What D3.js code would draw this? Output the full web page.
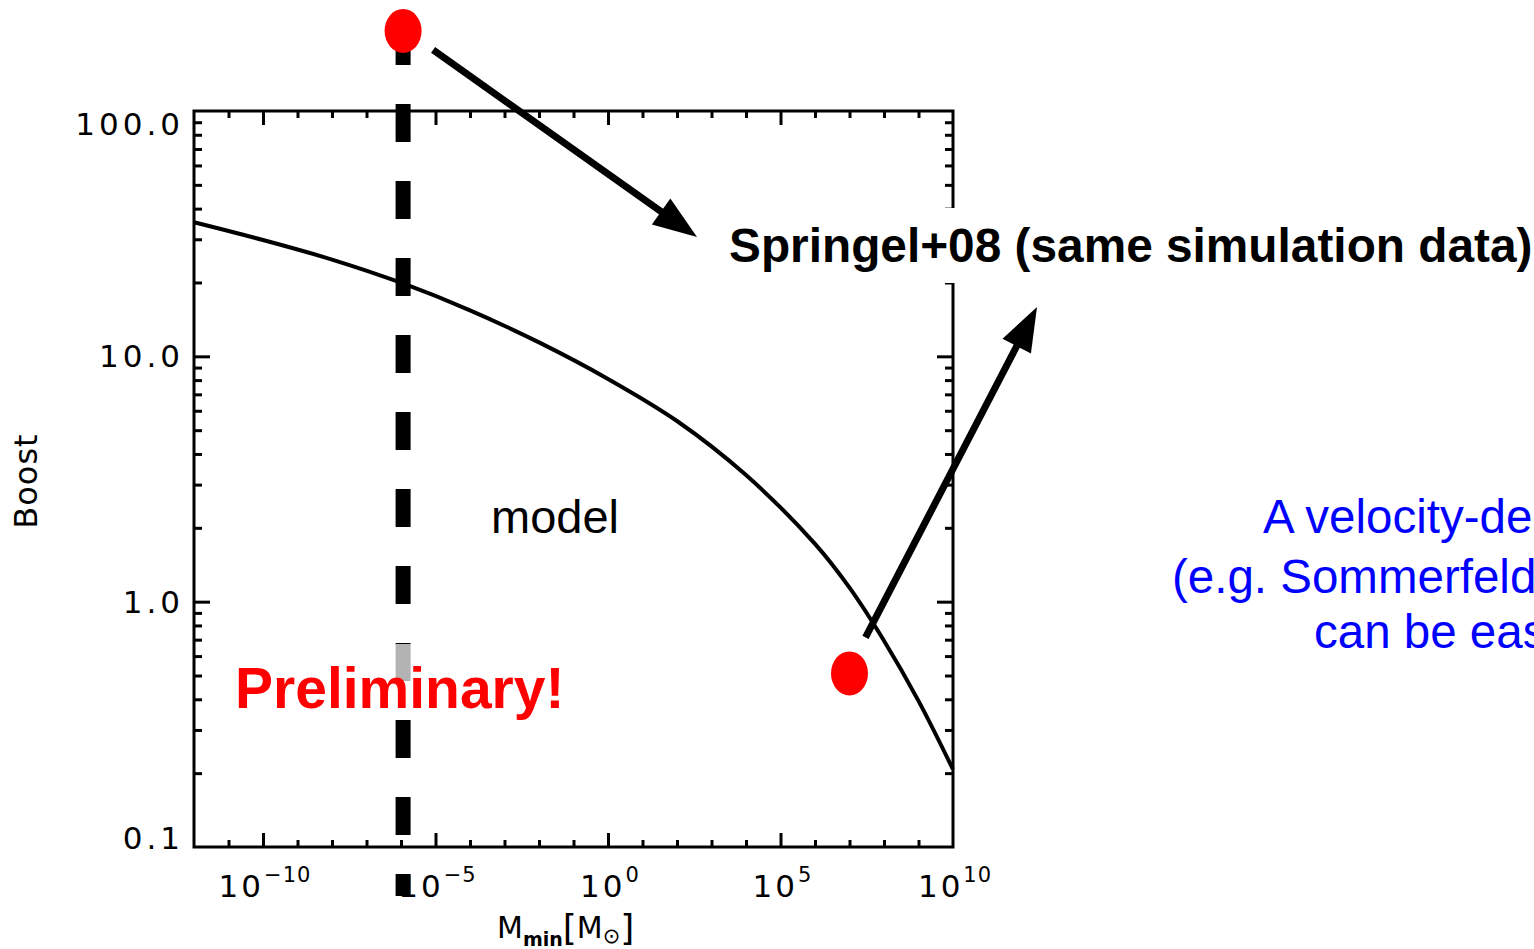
<!DOCTYPE html>
<html><head><meta charset="utf-8">
<script src="https://cdn.jsdelivr.net/npm/d3@7"></script>
<style>html,body{margin:0;padding:0;background:#fff;overflow:hidden}</style>
</head><body><svg id="c" width="1534" height="949"></svg>
<script>
// ---- data ----
const massExp = [-12, -10, -8, -6, -4, -2, 0, 2, 4, 6, 7, 8, 9, 10];
const boostModel = [35.2, 29.8, 24.8, 19.95, 15.4, 11.4, 8.09, 5.45, 3.28, 1.72, 1.14, 0.693, 0.394, 0.207];
const springelMass = [1.15e-6, 1e7];
const springelBoost = [212, 0.51];
const cutMass = 1.15e-6;
const yTickValues = [0.1, 1, 10, 100];
const yTickLabels = ["0.1", "1.0", "10.0", "100.0"];
const xTickExps = [-10, -5, 0, 5, 10];
const xTickSup = ["\u221210", "\u22125", "0", "5", "10"];

// ---- layout ----
const W = 1534, H = 949;
const L = 194, R = 953, T = 111, B = 847;
const svg = d3.select("#c");
const x = d3.scaleLog().domain([1e-12, 1e10]).range([L, R]);
const y = d3.scaleLog().domain([0.1, 100]).range([B, T]);
const tickFont = "'DejaVu Sans', sans-serif";
const arial = "'Liberation Sans', Arial, sans-serif";

const xMinor = d3.range(-11, 10).filter(e => e % 5 !== 0).map(e => Math.pow(10, e));
const xMajor = [1e-10, 1e-5, 1, 1e5];
const yMinor = [];
[0.1, 1, 10].forEach(d => { for (let k = 2; k <= 9; k++) yMinor.push(d * k); });
const yMajor = [1, 10];

function styleAxis(g) {
  g.select(".domain").remove();
  g.selectAll(".tick text").remove();
  g.selectAll(".tick line").attr("stroke", "#000").attr("stroke-width", 3);
}
svg.append("g").attr("transform", `translate(0,${B})`).call(d3.axisBottom(x).tickValues(xMinor).tickSize(-7)).call(styleAxis);
svg.append("g").attr("transform", `translate(0,${B})`).call(d3.axisBottom(x).tickValues(xMajor).tickSize(-14)).call(styleAxis);
svg.append("g").attr("transform", `translate(0,${T})`).call(d3.axisTop(x).tickValues(xMinor).tickSize(-7)).call(styleAxis);
svg.append("g").attr("transform", `translate(0,${T})`).call(d3.axisTop(x).tickValues(xMajor).tickSize(-14)).call(styleAxis);
svg.append("g").attr("transform", `translate(${L},0)`).call(d3.axisLeft(y).tickValues(yMinor).tickSize(-8)).call(styleAxis);
svg.append("g").attr("transform", `translate(${L},0)`).call(d3.axisLeft(y).tickValues(yMajor).tickSize(-16)).call(styleAxis);
svg.append("g").attr("transform", `translate(${R},0)`).call(d3.axisRight(y).tickValues(yMinor).tickSize(-8)).call(styleAxis);
svg.append("g").attr("transform", `translate(${R},0)`).call(d3.axisRight(y).tickValues(yMajor).tickSize(-16)).call(styleAxis);

// frame
svg.append("rect").attr("x", L).attr("y", T).attr("width", R - L).attr("height", B - T)
  .attr("fill", "none").attr("stroke", "#000").attr("stroke-width", 3);

// y tick labels
const yLabOffset = [-9, 0, 0, 13];
svg.append("g").selectAll("text").data(yTickValues).join("text")
  .attr("x", 184)
  .attr("y", (d, i) => y(d) + 11 + yLabOffset[i])
  .attr("text-anchor", "end")
  .attr("font-family", tickFont).attr("font-size", 31).attr("letter-spacing", 4)
  .text((d, i) => yTickLabels[i]);

// x tick labels
const xl = svg.append("g").selectAll("text").data(xTickExps).join("text")
  .attr("x", d => x(Math.pow(10, d)) + 2)
  .attr("y", 897)
  .attr("text-anchor", "middle")
  .attr("font-family", tickFont).attr("font-size", 31).attr("letter-spacing", 3);
xl.append("tspan").text("10");
xl.append("tspan").attr("font-size", 21).attr("dy", -15).attr("letter-spacing", 1).text((d, i) => xTickSup[i]);

// axis titles
const xt = svg.append("text").attr("x", 497).attr("y", 938).attr("font-family", tickFont).attr("font-size", 30);
xt.append("tspan").text("M");
xt.append("tspan").attr("font-size", 19).attr("dy", 8).attr("font-weight", "bold").text("min");
xt.append("tspan").attr("font-size", 36).attr("dy", -6).text("[");
xt.append("tspan").attr("dy", -2).text("M");
xt.append("tspan").attr("font-size", 21).attr("dy", 5).text("\u2299");
xt.append("tspan").attr("font-size", 36).attr("dy", -3).text("]");

svg.append("text").attr("transform", "translate(37,481) rotate(-90)")
  .attr("text-anchor", "middle").attr("font-family", tickFont).attr("font-size", 32).attr("letter-spacing", 1)
  .text("Boost");

// model curve
const line = d3.line().x(d => x(Math.pow(10, d[0]))).y(d => y(d[1])).curve(d3.curveCatmullRom);
svg.append("path").datum(massExp.map((m, i) => [m, boostModel[i]]))
  .attr("d", line).attr("fill", "none").attr("stroke", "#000").attr("stroke-width", 4);

// dashed cut line
const yTopDash = y(springelBoost[0]) - 4;
svg.append("line").attr("x1", x(cutMass)).attr("x2", x(cutMass))
  .attr("y1", yTopDash).attr("y2", 896)
  .attr("stroke", "#000").attr("stroke-width", 15).attr("stroke-dasharray", "38,39");

// "model" label
svg.append("text").attr("x", 491).attr("y", 533).attr("font-family", arial).attr("font-size", 47).text("model");

// Preliminary with translucent box
svg.append("rect").attr("x", 228).attr("y", 644).attr("width", 350).attr("height", 76)
  .attr("fill", "#fff").attr("fill-opacity", 0.7);
svg.append("text").attr("x", 235).attr("y", 708).attr("font-family", arial).attr("font-weight", "bold")
  .attr("font-size", 57).attr("fill", "#ff0000").text("Preliminary!");

// Springel points
svg.append("g").selectAll("ellipse").data(springelMass).join("ellipse")
  .attr("cx", d => x(d)).attr("cy", (d, i) => y(springelBoost[i]))
  .attr("rx", 18.5).attr("ry", 22).attr("fill", "#ff0000");

// Springel label
const labX = 729, labY = 262;
svg.append("rect").attr("x", 718).attr("y", 208).attr("width", W - 718).attr("height", 75).attr("fill", "#fff");
svg.append("text").attr("x", labX).attr("y", labY).attr("font-family", arial).attr("font-weight", "bold")
  .attr("font-size", 47.8).text("Springel+08 (same simulation data)");

// arrows from points to label
function arrow(x1, y1, x2, y2) {
  const a = Math.atan2(y2 - y1, x2 - x1), len = 44, hw = 16;
  const bx = x2 - len * Math.cos(a), by = y2 - len * Math.sin(a);
  svg.append("line").attr("x1", x1).attr("y1", y1).attr("x2", bx + 4 * Math.cos(a)).attr("y2", by + 4 * Math.sin(a))
    .attr("stroke", "#000").attr("stroke-width", 7);
  const p = [[x2, y2], [bx + hw * Math.sin(a), by - hw * Math.cos(a)], [bx - hw * Math.sin(a), by + hw * Math.cos(a)]];
  svg.append("polygon").attr("points", p.map(q => q.join(",")).join(" ")).attr("fill", "#000");
}
const p1 = [x(springelMass[0]), y(springelBoost[0])];
const p2 = [x(springelMass[1]), y(springelBoost[1])];
arrow(p1[0] + 30, p1[1] + 19, labX - 32, labY - 25);
arrow(p2[0] + 16, p2[1] - 36, labX + 308, labY + 45);

// blue side text (clipped by the page edge, as in the reference)
const blue = svg.append("g").attr("font-family", arial).attr("font-size", 47.5).attr("fill", "#0000ff");
blue.append("text").attr("x", 1263).attr("y", 533).text("A velocity-de");
blue.append("text").attr("x", 1172).attr("y", 593).text("(e.g. Sommerfeld");
blue.append("text").attr("x", 1314).attr("y", 648).text("can be eas");
</script></body></html>
